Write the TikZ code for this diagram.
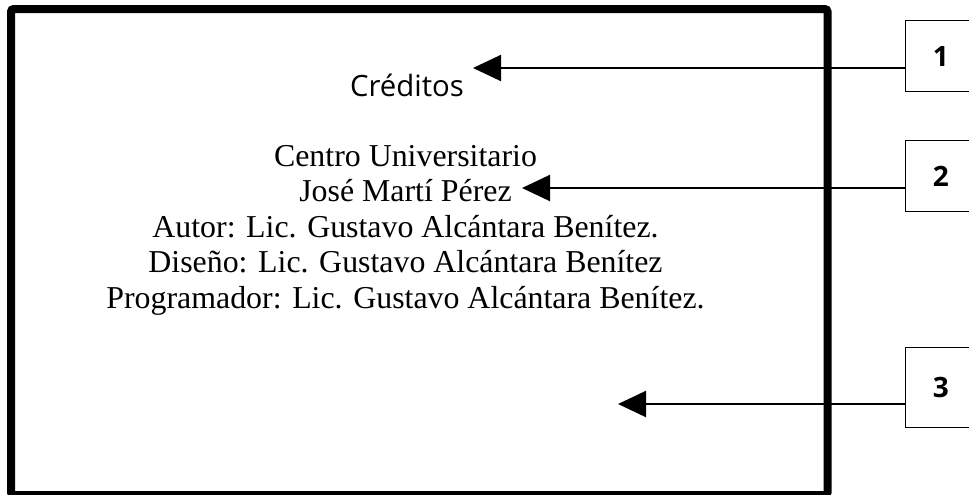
\documentclass[tikz,border=0pt]{standalone}
\usepackage{fontspec}
\setmainfont{Liberation Serif}
\newfontfamily\credfont{Open Sans}
\usetikzlibrary{arrows.meta}

\begin{document}
\begin{tikzpicture}[x=0.75pt, y=-0.75pt,
  numbox/.style={rectangle, draw=black, line width=1.1pt, minimum width=52.5pt, minimum height=53.25pt, anchor=north west, font=\credfont\bfseries\fontsize{21}{24}\selectfont},
  credline/.style={inner sep=0pt, anchor=base, font=\fontsize{23.9}{26}\selectfont},
  pointer/.style={line width=1.5pt, -{Triangle[length=21pt, width=19.5pt]}}]

\useasboundingbox (0,0) rectangle (969,494);

% screen frame
\draw[line width=6pt, rounded corners=2pt] (11,9) rectangle (827.5,495);

\node at (407,96)[inner sep=0pt, anchor=base, font=\credfont\fontsize{22}{26}\selectfont] (titulo) {Créditos};

\node at (405.5,166)[credline] (centro) {Centro Universitario};
\node at (405.5,201.5)[credline] (jose) {José Martí Pérez};
\node at (405.5,237)[credline] (autor) {Autor: Lic. Gustavo Alcántara Benítez.};
\node at (405.5,272.5)[credline] (diseno) {Diseño: Lic. Gustavo Alcántara Benítez};
\node at (405.5,308)[credline] (program) {Programador: Lic. Gustavo Alcántara Benítez.};

\node at (905,20)[numbox] (box1) {1};
\node at (905,140)[numbox] (box2) {2};
\node at (905,347)[numbox, minimum height=60pt] (box3) {3};

\coordinate (tip1) at (473,68);
\coordinate (tip2) at (522,188);
\coordinate (tip3) at (618,404);

\draw[pointer] (tip1 -| box1.west) -- (tip1);
\draw[pointer] (tip2 -| box2.west) -- (tip2);
\draw[pointer] (tip3 -| box3.west) -- (tip3);

\end{tikzpicture}
\end{document}
